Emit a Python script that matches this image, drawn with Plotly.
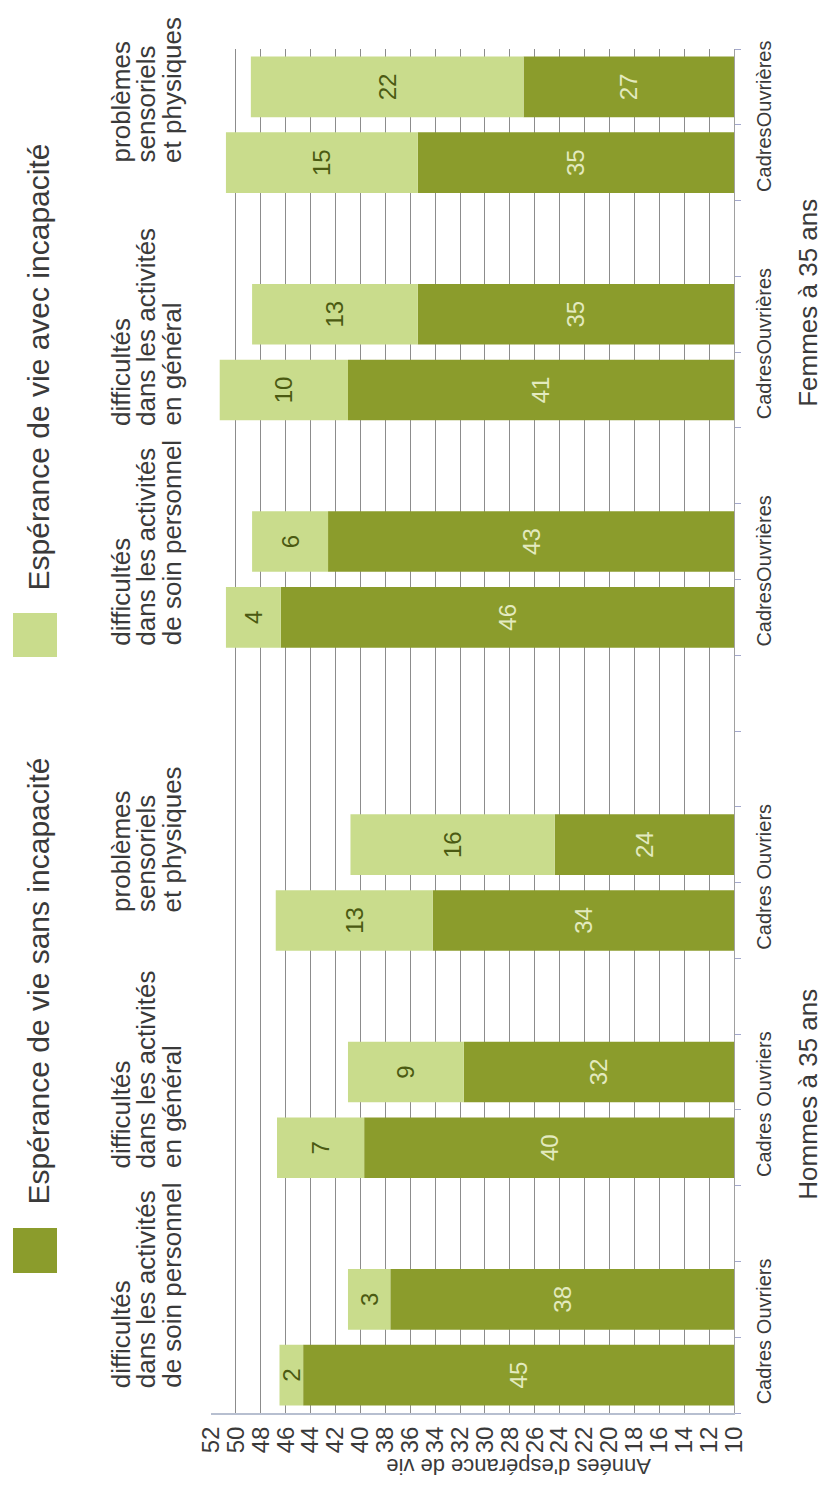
import plotly.graph_objects as go

# ---------------- data ----------------
sexes = ["Hommes à 35 ans", "Femmes à 35 ans"]
indicators = [
    ["difficultés", "dans les activités", "de soin personnel"],
    ["difficultés", "dans les activités", "en général"],
    ["problèmes", "sensoriels", "et physiques"],
]
occupations_h = ["Cadres", "Ouvriers"]
occupations_f = ["Cadres", "Ouvrières"]

# order: Hommes (soin C, O, général C, O, sensoriels C, O), then Femmes (same)
sans_incapacite = [44.6, 37.6, 39.7, 31.7, 34.2, 24.4,
                   46.4, 42.6, 41.0, 35.4, 35.4, 26.9]
avec_incapacite = [1.9, 3.4, 7.0, 9.3, 12.6, 16.4,
                   4.4, 6.1, 10.3, 13.3, 15.4, 21.9]

series_names = ["Espérance de vie sans incapacité", "Espérance de vie avec incapacité"]
axis_title = "Années d'espérance de vie"
x_ticks = list(range(10, 53, 2))

# ---------------- styling ----------------
FONT = "Liberation Sans, Arial, sans-serif"
DARK = "#8b9c2c"
LIGHT = "#c9dc8c"
TXT = "#3a3a3a"
W, H = 826, 1490
L, R, T, B = 211, 92, 49, 77
PW, PH = W - L - R, H - T - B
AX_MIN, AX_MAX = 10, 52


def px_x(px):
    return (px - L) / PW


def px_y(py):
    return (H - B - py) / PH


# category slot positions (pairs separated by an empty slot, sexes by two)
pos, labels = [], []
slot = 0
for s_i, sex in enumerate(sexes):
    occ = occupations_h if s_i == 0 else occupations_f
    for k in range(len(indicators)):
        pos += [slot, slot + 1]
        labels += occ
        slot += 3
    slot += 1
y_lo, y_hi = pos[0] - 0.5, pos[-1] + 0.5

fig = go.Figure()
fig.add_trace(go.Bar(
    y=pos, x=[v - AX_MIN for v in sans_incapacite], base=[AX_MIN] * len(pos),
    orientation="h", width=0.8, marker=dict(color=DARK, line=dict(width=0)),
    text=[f"{v:.0f}" for v in sans_incapacite], textposition="inside",
    insidetextanchor="middle", textangle=-90, constraintext="none",
    textfont=dict(family=FONT, size=24, color="#e3eabf"), name=series_names[0],
    hoverinfo="skip"))
fig.add_trace(go.Bar(
    y=pos, x=avec_incapacite, base=sans_incapacite,
    orientation="h", width=0.8, marker=dict(color=LIGHT, line=dict(width=0)),
    text=[f"{v:.0f}" for v in avec_incapacite], textposition="inside",
    insidetextanchor="middle", textangle=-90, constraintext="none",
    textfont=dict(family=FONT, size=24, color="#4b5a12"), name=series_names[1],
    hoverinfo="skip"))

fig.update_layout(
    width=W, height=H, margin=dict(l=L, r=R, t=T, b=B),
    barmode="overlay", showlegend=False,
    plot_bgcolor="white", paper_bgcolor="white",
    font=dict(family=FONT, color=TXT),
    xaxis=dict(range=[AX_MAX, AX_MIN], tickmode="array", tickvals=x_ticks,
               tickangle=-90, tickfont=dict(size=24, color=TXT),
               showgrid=True, gridcolor="#8c8c8c", gridwidth=1,
               showline=True, linecolor="#b7bfd0", linewidth=2,
               zeroline=False, ticks="", ticklabelstandoff=2),
    yaxis=dict(range=[y_lo, y_hi], side="right", tickmode="array",
               tickvals=pos, ticktext=labels, tickangle=-90,
               tickfont=dict(size=20, color=TXT), ticks="",
               showgrid=False, zeroline=False, showline=True,
               linecolor="#a0a0a0", linewidth=1, ticklabelstandoff=12,
               minor=dict(tickmode="array",
                          tickvals=[p + 0.5 for p in range(pos[0] - 1, pos[-1] + 1)],
                          ticks="outside", ticklen=6, tickwidth=1,
                          tickcolor="#a3a8cc", showgrid=False)),
)

ann = []
# axis title (upside down, as in the rotated original)
ann.append(dict(text=axis_title, xref="paper", yref="paper", x=px_x(519), y=px_y(1467),
                textangle=180, showarrow=False, font=dict(size=22, color=TXT),
                xanchor="center", yanchor="middle"))

# group labels (Hommes / Femmes)
group_centers = [3.7, 14.15]
for sex, gc in zip(sexes, group_centers):
    ann.append(dict(text=sex, xref="paper", yref="y", x=px_x(808), y=gc,
                    textangle=-90, showarrow=False, font=dict(size=26, color=TXT),
                    xanchor="center", yanchor="middle"))

# indicator descriptions (three lines each, left-aligned = bottom in rotated view)
desc_starts = [-0.2, 2.7, 6.08, 9.6, 12.5, 15.97]
line_x = [121, 146, 172]
for g in range(len(desc_starts)):
    lines = indicators[g % 3]
    for li, txt in enumerate(lines):
        ann.append(dict(text=txt, xref="paper", yref="y", x=px_x(line_x[li]), y=desc_starts[g],
                        textangle=-90, showarrow=False, font=dict(size=26, color=TXT),
                        xanchor="center", yanchor="bottom"))

# legend (rotated)
legend_items = [(series_names[0], DARK, 1228, 1273, 1207),
                (series_names[1], LIGHT, 613, 657, 593)]
shapes = []
for name, col, y0, y1, ty in legend_items:
    shapes.append(dict(type="rect", xref="paper", yref="paper",
                       x0=px_x(13), x1=px_x(57), y0=px_y(y1), y1=px_y(y0),
                       fillcolor=col, line=dict(width=0)))
    ann.append(dict(text=name, xref="paper", yref="paper", x=px_x(38), y=px_y(ty),
                    textangle=-90, showarrow=False, font=dict(size=30, color=TXT),
                    xanchor="center", yanchor="bottom"))

fig.update_layout(annotations=ann, shapes=shapes)
fig.write_html("out.html")
